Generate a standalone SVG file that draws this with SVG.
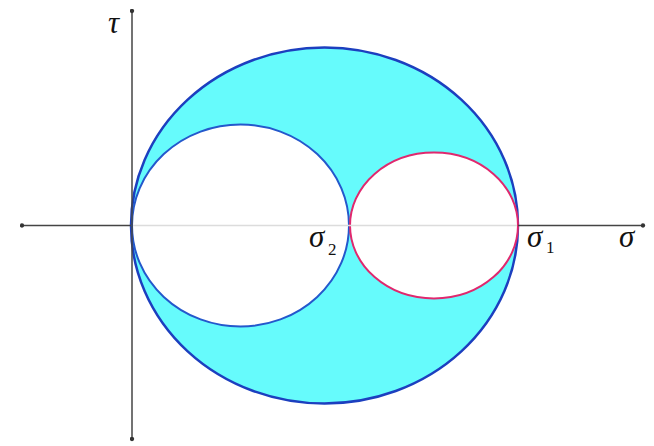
<svg xmlns="http://www.w3.org/2000/svg" width="654" height="446" viewBox="0 0 654 446">
<defs>
<marker id="dot" viewBox="0 0 6 6" refX="3" refY="3" markerWidth="5" markerHeight="5" markerUnits="userSpaceOnUse" orient="auto">
<circle cx="3" cy="3" r="2.6" fill="#333"/>
</marker>
<style>
.ax{stroke:#444;stroke-width:1.5;fill:none}
.axl{stroke:#dcdcdc;stroke-width:1.5;fill:none}
.lbl{font-family:"Liberation Serif","Times New Roman",serif;font-style:italic;font-size:31px;fill:#111}
.sub{font-family:"Liberation Serif","Times New Roman",serif;font-size:17px;fill:#111}
</style>
</defs>
<rect width="654" height="446" fill="#fff"/>
<g id="outer-circle">
<ellipse cx="324.5" cy="225.5" rx="193.5" ry="178" fill="#66fbfc" stroke="#1c3fbf" stroke-width="2.5"/>
</g>
<g id="circle-left">
<ellipse cx="240.5" cy="225.5" rx="108.5" ry="101" fill="#fff" stroke="#2458cc" stroke-width="2"/>
</g>
<g id="circle-right">
<ellipse cx="434" cy="225.5" rx="84" ry="73" fill="#fff" stroke="#e0286e" stroke-width="2"/>
</g>
<g id="connectors">
<line class="ax" x1="131" y1="225.5" x2="22" y2="225.5" marker-end="url(#dot)"/>
<line class="axl" x1="133" y1="225.5" x2="517" y2="225.5"/>
<line class="ax" x1="518" y1="225.5" x2="643" y2="225.5" marker-end="url(#dot)"/>
<line class="ax" x1="132" y1="225.5" x2="132" y2="11" marker-end="url(#dot)"/>
<line class="ax" x1="132" y1="225.5" x2="132" y2="439" marker-end="url(#dot)"/>
</g>
<g id="labels">
<text class="lbl" x="108" y="33">τ</text>
<text class="lbl" x="309" y="247">σ</text>
<text class="sub" x="328" y="255">2</text>
<text class="lbl" x="527" y="247">σ</text>
<text class="sub" x="546" y="253">1</text>
<text class="lbl" x="619" y="247">σ</text>
</g>
</svg>
